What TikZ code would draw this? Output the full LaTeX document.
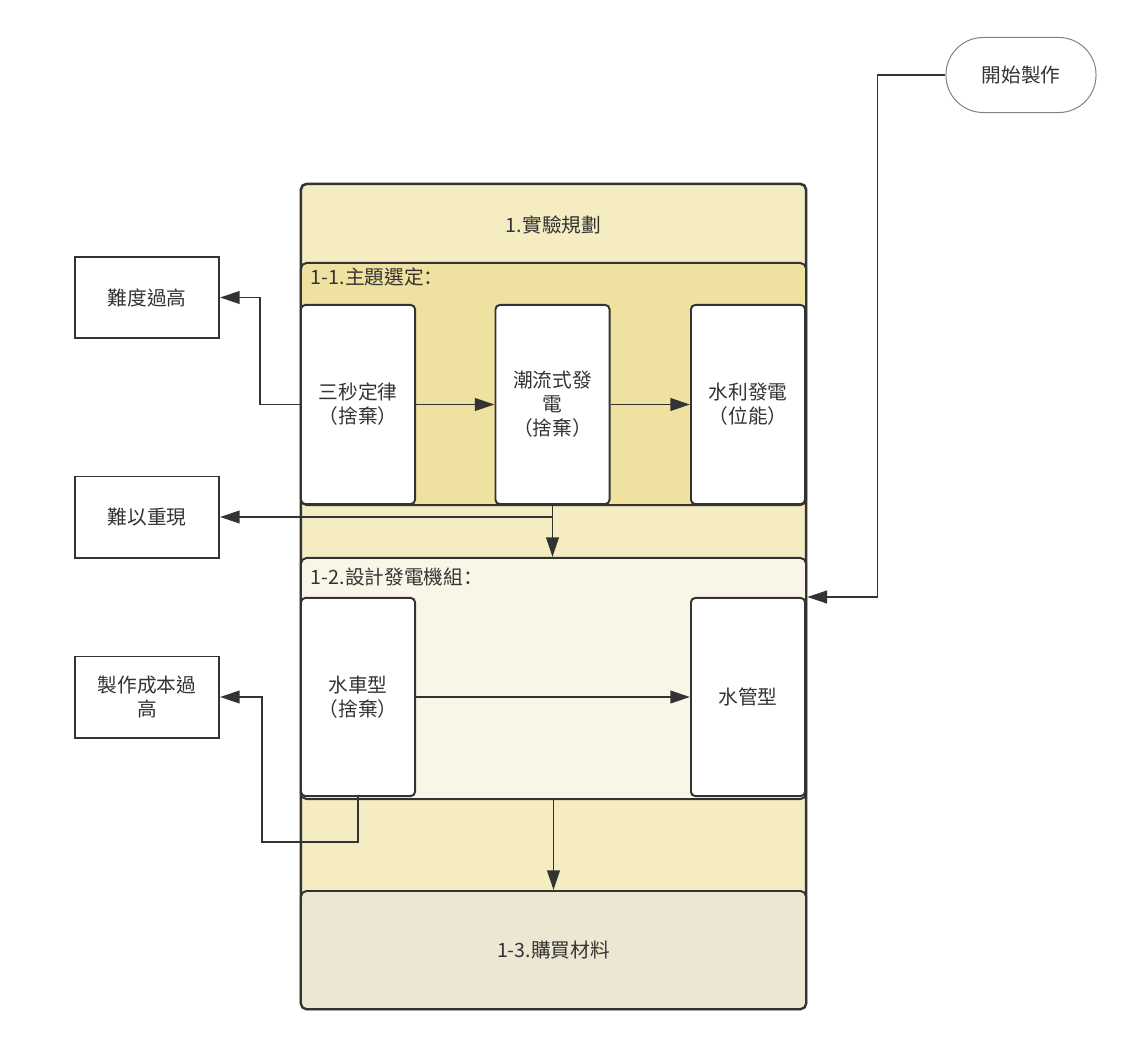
\documentclass[tikz,border=0pt]{standalone}
\usepackage{fontspec}
\setmainfont{Noto Sans CJK TC}
\newfontfamily\scfont{Noto Sans CJK SC}
\usetikzlibrary{arrows.meta,positioning,calc}
\definecolor{linegray}{HTML}{333333}
\definecolor{planyellow}{HTML}{F5ECC1}
\definecolor{topicyellow}{HTML}{EFE1A0}
\definecolor{designcream}{HTML}{FAF6E7}
\definecolor{buybeige}{HTML}{EDE6D2}

\begin{document}
\begin{tikzpicture}[x=0.025cm, y=-0.025cm,
    every node/.style={font=\fontsize{14}{17}\selectfont, text=linegray, align=center},
    box/.style={draw=linegray, fill=white, rounded corners=3pt, line width=1.4pt, minimum width=2.85cm, minimum height=4.95cm, inner sep=2pt},
    note/.style={draw=linegray, fill=white, line width=1.4pt, minimum width=3.6cm, minimum height=2.025cm, inner sep=2pt},
    region/.style={draw=linegray, rounded corners=4pt, line width=1.4pt, minimum width=12.625cm, inner sep=0pt},
    arr/.style={-{Triangle[length=14pt,width=9pt]}, line width=1.4pt, linegray},
]
\useasboundingbox (0,0) rectangle (1133,1046);

% Experiment plan
\node[region, fill=planyellow, minimum height=20.625cm, line width=1.8pt] (plan) at (553.5,596.5) {};
\node (plantitle) at (553.5,225) {1.實驗規劃};

% Topic selection
\node[region, fill=topicyellow, minimum height=6.05cm] (topic) at (553.5,384) {};
\node[anchor=west] (topiclabel) at (306,277) {1-1.主題選定{\scfont ：}};
\node[box, minimum height=4.975cm] (threesec) at (358,404.5) {三秒定律\\（捨棄）};
\node[box, minimum height=4.975cm] (tidal) at (552.5,404.5) {潮流式發\\電\\（捨棄）};
\node[box, minimum height=4.975cm] (hydro) at (748,404.5) {水利發電\\（位能）};

% Generator design
\node[region, fill=designcream, minimum height=6.025cm] (design) at (553.5,678.5) {};
\node[anchor=west] (designlabel) at (306,577) {1-2.設計發電機組{\scfont ：}};
\node[box] (wheel) at (358,697) {水車型\\（捨棄）};
\node[box] (tube) at (748,697) {水管型};

% Buy materials
\node[region, fill=buybeige, minimum height=2.95cm] (buy) at (553.5,950) {1-3.購買材料};

% Rejected reasons
\node[note] (hard) at (147,297.5) {難度過高};
\node[note] (repro) at (147,517) {難以重現};
\node[note] (cost) at (147,697) {製作成本過\\高};

% Start
\node[draw=gray, line width=0.7pt, rounded corners=0.93cm, minimum width=3.75cm, minimum height=1.875cm] (start) at (1021,75) {開始製作};

% Arrows
\draw[arr] (threesec) -- (tidal);
\draw[arr] (tidal) -- (hydro);
\draw[arr] (threesec.west) -- ++(-40,0) |- (hard.east);
\draw[arr] (tidal.south) -- (tidal.south |- design.north);
\draw[arr] (tidal.south |- repro.east) -- (repro.east);
\draw[arr] (wheel) -- (tube);
\draw[arr] (wheel.south) -- ++(0,45) -| ($(cost.east)+(42,0)$) -- (cost.east);
\draw[arr] (design.south) -- (buy.north);
\coordinate (entry) at (tube.north -| plan.east);
\draw[arr] (start.west) -- ++(-68,0) |- (entry);
\end{tikzpicture}
\end{document}
